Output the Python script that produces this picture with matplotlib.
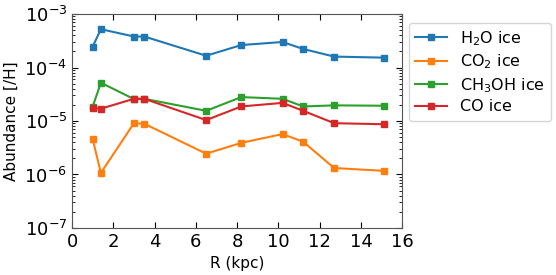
import numpy as np
import matplotlib.pyplot as plt

R = [1.0, 1.4, 3.0, 3.5, 6.5, 8.2, 10.2, 11.2, 12.7, 15.1]
h2o = [2.45e-4, 5.2e-4, 3.8e-4, 3.8e-4, 1.66e-4, 2.63e-4, 3.0e-4, 2.22e-4, 1.6e-4, 1.53e-4]
co2 = [4.6e-6, 1.07e-6, 9.1e-6, 8.9e-6, 2.45e-6, 3.9e-6, 5.7e-6, 4.1e-6, 1.32e-6, 1.17e-6]
ch3oh = [1.85e-5, 5.2e-5, 2.57e-5, 2.6e-5, 1.55e-5, 2.8e-5, 2.6e-5, 1.87e-5, 1.96e-5, 1.93e-5]
co = [1.73e-5, 1.7e-5, 2.6e-5, 2.6e-5, 1.04e-5, 1.87e-5, 2.18e-5, 1.55e-5, 9.1e-6, 8.7e-6]

series = [
    (h2o, r"H$_2$O ice"),
    (co2, r"CO$_2$ ice"),
    (ch3oh, r"CH$_3$OH ice"),
    (co, "CO ice"),
]

fig = plt.figure(figsize=(5.56, 2.75), dpi=100)
ax = fig.add_axes([0.1295, 0.171, 0.594, 0.778])
for vals, lab in series:
    ax.plot(R, vals, marker="s", ms=5, lw=1.5, label=lab)

ax.set_yscale("log")
ax.set_xlim(0, 16)
ax.set_ylim(1e-7, 1e-3)
ax.set_xticks(np.arange(0, 17, 2))
ax.set_xlabel("R (kpc)", fontsize=11)
ax.set_ylabel("Abundance [/H]", fontsize=11)
ax.tick_params(which="both", direction="in", top=True, right=True, labelsize=13)
ax.tick_params(which="major", length=4)
ax.tick_params(which="minor", length=2)
for s in ax.spines.values():
    s.set_color("#555555")
ax.legend(loc="upper left", bbox_to_anchor=(1.02, 0.96), fontsize=11.5,
          handlelength=2.0, labelspacing=0.3, borderaxespad=0.0)

fig.savefig("out.png", dpi=100)
